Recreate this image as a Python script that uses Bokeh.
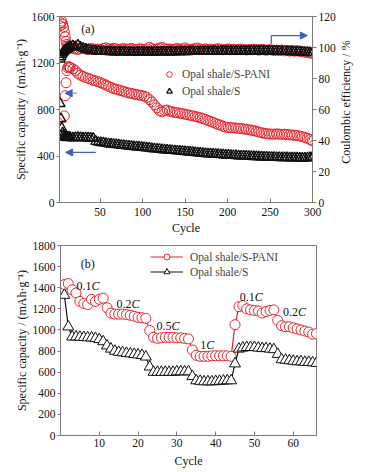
import math
import numpy as np
from bokeh.plotting import figure
from bokeh.models import (ColumnDataSource, Range1d, LinearAxis, FixedTicker,
                          Legend, LegendItem, Arrow, NormalHead)
from bokeh.layouts import column, row
from bokeh.embed import file_html
from bokeh.resources import INLINE
from bokeh.core.properties import value

# ---------------- data: panel (a), cycling at 0.2C ----------------
cycles_a = [3, 4, 5, 6, 7, 8, 9, 10, 11, 12, 13, 14, 15,
            18, 21, 24, 27, 30, 33, 36, 39, 42, 45,
            48, 51, 54, 57, 60, 63, 66, 69, 72, 75,
            78, 81, 84, 87, 90, 93, 96, 99, 102, 105,
            108, 111, 114, 117, 120, 123, 126, 129, 132, 135,
            138, 141, 144, 147, 150, 153, 156, 159, 162, 165,
            168, 171, 174, 177, 180, 183, 186, 189, 192, 195,
            198, 201, 204, 207, 210, 213, 216, 219, 222, 225,
            228, 231, 234, 237, 240, 243, 246, 249, 252, 255,
            258, 261, 264, 267, 270, 273, 276, 279, 282, 285,
            288, 291, 294, 297, 300]

cap_pani_a = [None, None, None, None, None, 745, 918, 1030, 1135, 1160, 1170, 1165, 1160,
              1150, 1135, 1110, 1095, 1085, 1075, 1068, 1060, 1050, 1045,
              1038, 1030, 1020, 1010, 1000, 990, 978, 975, 968, 962,
              955, 948, 942, 938, 932, 928, 924, 920, 915, 905,
              885, 865, 840, 815, 790, 780, 792, 795, 785, 780,
              775, 772, 768, 764, 760, 755, 750, 745, 740, 735,
              730, 722, 715, 705, 698, 690, 680, 672, 665, 655,
              648, 645, 643, 642, 640, 638, 636, 632, 630, 626,
              622, 618, 612, 606, 600, 596, 592, 590, 588, 588,
              590, 588, 586, 588, 585, 582, 580, 578, 576, 572,
              566, 560, 552, 542, 530]

cap_s_a = [850, 720, 640, 600, 580, 568, 562, 560, 558, 560, 562, 560, 558,
           556, 558, 560, 558, 556, 555, 556, 554, 552, 525,
           518, 515, 512, 508, 505, 502, 500, 497, 495, 492,
           490, 487, 485, 482, 480, 478, 476, 474, 471, 469,
           467, 464, 462, 460, 458, 455, 453, 451, 449, 447,
           445, 443, 441, 439, 437, 435, 433, 431, 429, 427,
           425, 423, 421, 419, 418, 416, 414, 413, 411, 410,
           408, 407, 405, 404, 403, 401, 400, 399, 398, 397,
           396, 395, 394, 393, 392, 391, 390, 389, 388, 388,
           387, 386, 386, 385, 385, 384, 384, 383, 383, 382,
           382, 382, 383, 385, 390]

ce_pani_a = [114, 116, 117, 115, 113, 110, 107, 104, 102, 101, 100.5, 100, 99.5,
             99.5, 99.0, 98.8, 99.2, 99.6, 99.0, 98.6, 99.3, 99.1, 98.8,
             99.0, 98.7, 99.4, 99.8, 99.2, 98.9, 99.5, 99.1, 98.7, 99.0,
             99.3, 98.8, 99.0, 99.4, 98.9, 98.6, 99.2, 99.0, 98.7, 99.1,
             100.2, 99.3, 98.8, 99.0, 99.6, 100.0, 99.2, 98.9, 99.1, 98.7,
             99.0, 99.4, 98.8, 99.1, 99.7, 98.9, 98.6, 99.0, 99.3, 99.6,
             98.9, 98.7, 99.1, 98.8, 99.0, 98.6, 98.9, 99.2, 98.8, 98.5,
             98.8, 99.1, 98.7, 98.9, 98.5, 98.8, 99.0, 98.6, 98.4, 98.7,
             98.5, 98.9, 98.6, 98.3, 98.7, 98.5, 98.2, 98.6, 98.4, 98.1,
             98.3, 98.0, 98.4, 97.8, 98.1, 97.7, 98.0, 97.6, 97.9, 97.5,
             97.3, 97.0, 96.8, 96.5, 96.2]

ce_s_a = [92.5, 94.0, 95.5, 96.5, 97.2, 97.8, 98.3, 98.8, 99.2, 99.5, 99.8, 100.2, 100.5,
          101.0, 100.6, 101.5, 100.2, 99.5, 99.0, 98.6, 98.2, 97.9, 97.7,
          97.6, 97.5, 97.4, 97.4, 97.3, 97.3, 97.2, 97.2, 97.2, 97.1,
          97.1, 97.1, 97.0, 97.0, 97.0, 97.0, 97.0, 97.0, 97.0, 97.0,
          97.0, 97.0, 97.1, 97.1, 97.1, 97.1, 97.2, 97.2, 97.2, 97.2,
          97.2, 97.3, 97.3, 97.3, 97.3, 97.3, 97.4, 97.4, 97.4, 97.4,
          97.4, 97.4, 97.5, 97.5, 97.5, 97.5, 97.5, 97.5, 97.6, 97.6,
          97.6, 97.6, 97.6, 97.6, 97.7, 97.7, 97.7, 97.7, 97.7, 97.7,
          97.8, 97.8, 97.8, 97.8, 97.8, 97.8, 97.7, 97.7, 97.7, 97.6,
          97.6, 97.5, 97.5, 97.4, 97.4, 97.3, 97.3, 97.2, 97.2, 97.1,
          97.0, 96.9, 96.8, 96.7, 96.6]

ticks_a_x = [50, 100, 150, 200, 250, 300]
ticks_a_cap = [0, 400, 800, 1200, 1600]
ticks_a_ce = [0, 20, 40, 60, 80, 100, 120]

# ---------------- data: panel (b), rate capability ----------------
cycles_b = list(range(1, 67))
cap_pani_b = [1430, 1440, 1380, 1350, 1270, 1250, 1240, 1290, 1270, 1290,
              1300, 1210, 1160, 1150, 1150, 1150, 1145, 1140, 1130, 1120,
              1115, 1110, 995, 930, 920, 925, 930, 930, 930, 925,
              925, 920, 915, 810, 760, 750, 750, 750, 755, 755,
              755, 755, 755, 750, 1050, 1220, 1230, 1200, 1190, 1185,
              1180, 1160, 1175, 1185, 1190, 1090, 1040, 1030, 1030, 1020,
              1010, 1000, 990, 980, 960, 965]
cap_s_b = [1330, 1030, 935, 935, 932, 930, 928, 925, 920, 910,
           890, 850, 820, 800, 790, 785, 780, 775, 770, 765,
           760, 745, 650, 600, 600, 600, 600, 600, 600, 605,
           605, 605, 605, 560, 520, 515, 510, 510, 510, 512,
           515, 518, 520, 520, 680, 820, 830, 835, 835, 835,
           830, 825, 825, 820, 815, 770, 720, 715, 710, 705,
           700, 700, 695, 695, 690, 685]
ticks_b_x = [10, 20, 30, 40, 50, 60]
ticks_b_y = [0, 200, 400, 600, 800, 1000, 1200, 1400, 1600, 1800]

rate_num = ["0.1", "0.2", "0.5", "1", "0.1", "0.2"]
rate_x = [8.0, 18.3, 28.6, 37.6, 50.1, 61.2]
rate_y = [1421, 1248, 1042, 853, 1310, 1168]

# ---------------- style ----------------
FONT = "Liberation Serif"
RED = "#e3262d"
BLACK = "#111111"
AXIS = "#7a7a7a"
TICK_FS = "11.5px"
LAB_FS = "12px"


def style_axis(ax, tick_in, tick_out):
    ax.axis_line_color = AXIS
    ax.major_tick_line_color = AXIS
    ax.minor_tick_line_color = None
    ax.major_tick_in = tick_in
    ax.major_tick_out = tick_out
    ax.major_label_text_font = FONT
    ax.major_label_text_font_size = TICK_FS
    ax.major_label_text_color = "#111111"
    ax.axis_label_text_font = FONT
    ax.axis_label_text_font_size = LAB_FS
    ax.axis_label_text_font_style = "normal"
    ax.axis_label_text_color = "#111111"
    ax.major_label_standoff = 2
    ax.axis_label_standoff = 1


# ---------------- panel (a) ----------------
src_a = ColumnDataSource(dict(
    c=cycles_a,
    cap_p=np.array(cap_pani_a, dtype=float),
    cap_s=np.array(cap_s_a, dtype=float),
    ce_p=np.array(ce_pani_a, dtype=float),
    ce_s=np.array(ce_s_a, dtype=float),
))

p1 = figure(width=338, height=237,
            x_range=Range1d(2.3, 300), y_range=Range1d(0, 1600),
            output_backend="svg", toolbar_location=None,
            min_border_left=59, min_border_right=24,
            min_border_top=16, min_border_bottom=35)
p1.extra_y_ranges = {"ce": Range1d(0, 120)}
p1.grid.visible = False
p1.outline_line_color = AXIS

r_ce_p = p1.scatter("c", "ce_p", source=src_a, marker="circle", size=10,
                    fill_alpha=0, line_color=RED, line_width=1, y_range_name="ce")
r_cap_p = p1.scatter("c", "cap_p", source=src_a, marker="circle", size=10,
                     fill_alpha=0, line_color=RED, line_width=1)
r_ce_s = p1.scatter("c", "ce_s", source=src_a, marker="triangle", size=10,
                    fill_alpha=0, line_color=BLACK, line_width=1.4, y_range_name="ce")
r_cap_s = p1.scatter("c", "cap_s", source=src_a, marker="triangle", size=10,
                     fill_alpha=0, line_color=BLACK, line_width=1.4)

p1.xaxis.ticker = FixedTicker(ticks=ticks_a_x)
p1.xaxis.axis_label = "Cycle"
style_axis(p1.xaxis[0], 4, 0)
p1.xaxis.major_label_standoff = 5
p1.xaxis.axis_label_standoff = 2
p1.yaxis.ticker = FixedTicker(ticks=ticks_a_cap)
p1.yaxis.axis_label = "Specific capacity / (mAh\u00b7g\u207b\u00b9)"
style_axis(p1.yaxis[0], 0, 3)

ax_r = LinearAxis(y_range_name="ce", ticker=FixedTicker(ticks=ticks_a_ce))
style_axis(ax_r, 0, 4)
p1.add_layout(ax_r, "right")

leg1 = Legend(items=[LegendItem(label="Opal shale/S-PANI", renderers=[r_cap_p]),
                     LegendItem(label="Opal shale/S", renderers=[r_cap_s])],
              location=(103, 104), padding=0, margin=0, spacing=3,
              glyph_width=14, glyph_height=14, label_height=14,
              label_standoff=6, border_line_alpha=0, background_fill_alpha=0,
              label_text_font=FONT, label_text_font_size=TICK_FS)
p1.add_layout(leg1)

p1.text(x=[35.7], y=[1494], text=["(a)"], text_font=value(FONT),
        text_font_size="12px", text_align="center", text_baseline="middle",
        text_color="#111111")

BLUE = "#3a62b8"
LIGHT_BLUE = "#8ea8d8"
p1.add_layout(Arrow(end=NormalHead(size=7, fill_color=BLUE, line_color=BLUE),
                    x_start=23, y_start=940, x_end=9, y_end=940,
                    line_color=LIGHT_BLUE, line_width=1.5))
p1.add_layout(Arrow(end=NormalHead(size=7, fill_color=BLUE, line_color=BLUE),
                    x_start=45, y_start=431, x_end=9.5, y_end=431,
                    line_color=BLUE, line_width=1.2))
p1.segment(x0=[251.5], y0=[102.3], x1=[251.5], y1=[107.7], y_range_name="ce",
           line_color=BLUE, line_width=1.2)
p1.add_layout(Arrow(end=NormalHead(size=7, fill_color=BLUE, line_color=BLUE),
                    x_start=251.5, y_start=107.7, x_end=294, y_end=107.7,
                    y_range_name="ce", line_color=BLUE, line_width=1.2))

# narrow strip holding the right-axis title (reads bottom-to-top)
p1r = figure(width=32, height=237, x_range=Range1d(0, 32), y_range=Range1d(0, 237),
             x_axis_type=None, y_axis_type=None, output_backend="svg",
             toolbar_location=None, min_border=0)
p1r.grid.visible = False
p1r.outline_line_color = None
p1r.text(x=[7.5], y=[128], text=["Coulombic efficiency / %"], angle=math.pi / 2,
         text_font=value(FONT), text_font_size=LAB_FS, text_align="center",
         text_baseline="middle", text_color="#111111")

# ---------------- panel (b) ----------------
src_b = ColumnDataSource(dict(c=cycles_b, p=cap_pani_b, s=cap_s_b))

p2 = figure(width=370, height=233,
            x_range=Range1d(0, 66), y_range=Range1d(0, 1800),
            output_backend="svg", toolbar_location=None,
            min_border_left=60, min_border_right=54,
            min_border_top=8, min_border_bottom=35)
p2.grid.visible = False
p2.outline_line_color = AXIS

l_p = p2.line("c", "p", source=src_b, line_color=RED, line_width=1.2)
m_p = p2.scatter("c", "p", source=src_b, marker="circle", size=10,
                 fill_color="white", line_color=RED, line_width=1)
l_s = p2.line("c", "s", source=src_b, line_color=BLACK, line_width=1.2)
m_s = p2.scatter("c", "s", source=src_b, marker="triangle", size=11,
                 fill_color="white", line_color=BLACK, line_width=1)

p2.xaxis.ticker = FixedTicker(ticks=ticks_b_x)
p2.xaxis.axis_label = "Cycle"
style_axis(p2.xaxis[0], 4, 0)
p2.xaxis.major_label_standoff = 3
p2.xaxis.axis_label_standoff = 4
p2.yaxis.ticker = FixedTicker(ticks=ticks_b_y)
p2.yaxis.axis_label = "Specific capacity / (mAh\u00b7g\u207b\u00b9)"
style_axis(p2.yaxis[0], 0, 3)

leg2 = Legend(items=[LegendItem(label="Opal shale/S-PANI", renderers=[l_p, m_p]),
                     LegendItem(label="Opal shale/S", renderers=[l_s, m_s])],
              location=(90, 156), padding=0, margin=0, spacing=0,
              glyph_width=33, glyph_height=15, label_height=15,
              label_standoff=7, border_line_alpha=0, background_fill_alpha=0,
              label_text_font=FONT, label_text_font_size=TICK_FS)
p2.add_layout(leg2)

src_r = ColumnDataSource(dict(x=rate_x, y=rate_y, t=rate_num,
                              c=["C"] * len(rate_num)))
p2.text(x="x", y="y", text="t", source=src_r, text_font=value(FONT),
        text_font_size="12px", text_align="right", text_baseline="middle",
        text_color="#111111")
p2.text(x="x", y="y", text="c", source=src_r, text_font=value(FONT),
        text_font_size="12px", text_font_style="italic", text_align="left",
        text_baseline="middle", text_color="#111111")
p2.text(x=[7.0], y=[1627], text=["(b)"], text_font=value(FONT),
        text_font_size="12px", text_align="center", text_baseline="middle",
        text_color="#111111")

layout = column(row(p1, p1r, spacing=0), p2, spacing=0)
open("out.html", "w").write(file_html(layout, INLINE))
